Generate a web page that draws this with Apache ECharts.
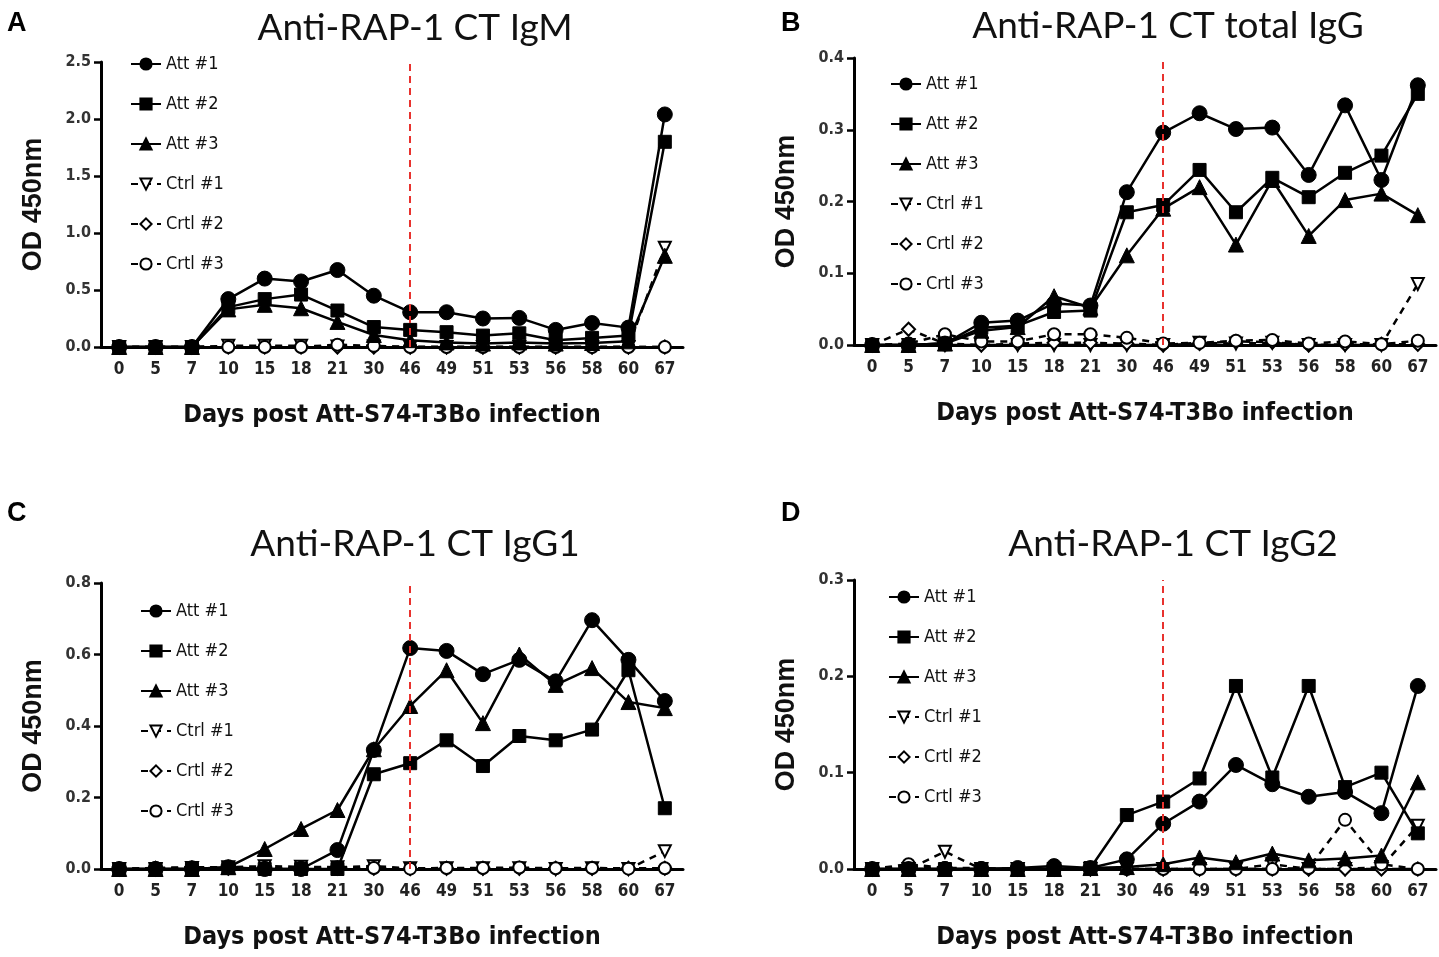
<!DOCTYPE html>
<html><head><meta charset="utf-8">
<script src="https://cdn.jsdelivr.net/npm/echarts@6/dist/echarts.min.js"></script>
<style>html,body{margin:0;padding:0;background:#fff}#c{width:1439px;height:957px}</style>
</head><body><div id="c"></div>
<script>
// ---------- data ----------
const days = ['0','5','7','10','15','18','21','30','46','49','51','53','56','58','60','67'];
const seriesNames = ['Att #1','Att #2','Att #3','Ctrl #1','Crtl #2','Crtl #3'];
const markDay = '46';

// A: IgM
const igmAtt1 = [0,0,0,0.42,0.60,0.575,0.675,0.45,0.305,0.305,0.25,0.255,0.15,0.21,0.17,2.04];
const igmAtt2 = [0,0,0,0.35,0.42,0.46,0.32,0.175,0.15,0.13,0.10,0.12,0.06,0.08,0.10,1.80];
const igmAtt3 = [0,0,0,0.33,0.37,0.34,0.22,0.105,0.06,0.04,0.03,0.04,0.03,0.035,0.05,0.80];
const igmCtrl1 = [0,0,0,0.01,0.01,0.01,0.005,0.005,0,0,0,0,0,0,0,0.87];
const igmCrtl2 = [0,0,0,0,0,0,0,0,0,0,0,0,0,0,0,0];
const igmCrtl3 = [0,0,0,0,0,0,0.02,0.01,0,0,0,0,0,0,0,0];

// B: total IgG
const iggAtt1 = [0,0,0.002,0.031,0.034,0.058,0.055,0.213,0.296,0.323,0.301,0.303,0.237,0.334,0.23,0.362];
const iggAtt2 = [0,0,0.002,0.024,0.027,0.046,0.048,0.185,0.195,0.244,0.185,0.233,0.206,0.24,0.264,0.35];
const iggAtt3 = [0,0,0.002,0.02,0.025,0.068,0.052,0.125,0.19,0.22,0.14,0.23,0.152,0.202,0.211,0.181];
const iggCtrl1 = [0,0,0,0,0,0,0,0,0,0.003,0.002,0.003,0,0,0,0.085];
const iggCrtl2 = [0,0.022,0.002,0,0.002,0.003,0.003,0.002,0,0.002,0.005,0.004,0,0.001,0.001,0.001];
const iggCrtl3 = [0,0.002,0.015,0.005,0.005,0.015,0.015,0.01,0.002,0.003,0.006,0.007,0.002,0.005,0.001,0.006];

// C: IgG1
const igg1Att1 = [0,0,0,0.005,0,0,0.053,0.333,0.618,0.61,0.545,0.585,0.525,0.696,0.585,0.47];
const igg1Att2 = [0,0,0,0.003,0,0,0,0.265,0.296,0.36,0.288,0.372,0.36,0.39,0.556,0.17];
const igg1Att3 = [0,0,0,0.005,0.056,0.112,0.165,0.335,0.456,0.556,0.408,0.6,0.515,0.562,0.467,0.45];
const igg1Ctrl1 = [0,0,0.003,0.005,0.008,0.006,0.005,0.008,0.002,0.002,0.002,0.002,0,0.002,0,0.05];
const igg1Crtl2 = [0,0.002,0.003,0.002,0.002,0.002,0.002,0.002,0.001,0.002,0.002,0.002,0.002,0.002,0.002,0.002];
const igg1Crtl3 = [0,0.003,0.005,0.005,0.003,0.003,0.005,0.003,0.001,0.003,0.003,0.004,0.002,0.003,0.001,0.002];

// D: IgG2
const igg2Att1 = [0,0,0,0,0.001,0.003,0.001,0.01,0.047,0.07,0.108,0.088,0.075,0.08,0.058,0.19];
const igg2Att2 = [0,0,0,0,0,0,0.001,0.056,0.07,0.094,0.19,0.095,0.19,0.085,0.1,0.037];
const igg2Att3 = [0,0,0,0,0,0,0.001,0.002,0.005,0.012,0.007,0.016,0.009,0.011,0.014,0.09];
const igg2Ctrl1 = [0,0,0.018,0,0,0,0,0,0,0,0,0.005,0,0,0.002,0.045];
const igg2Crtl2 = [0,0.003,0,0,0,0,0,0,0,0,0,0,0,0,0,0];
const igg2Crtl3 = [0,0.005,0.001,0.001,0,0,0,0,0,0,0,0,0.001,0.051,0.005,0];

const titles = ['Anti-RAP-1 CT IgM','Anti-RAP-1 CT total IgG','Anti-RAP-1 CT IgG1','Anti-RAP-1 CT IgG2'];
const letters = ['A','B','C','D'];
const yMaxes = [2.5,0.4,0.8,0.3];
const yIntervals = [0.5,0.1,0.2,0.1];
const xAxisTitle = 'Days post Att-S74-T3Bo infection';
const yAxisTitle = 'OD 450nm';

const panelData = [
  [igmAtt1,igmAtt2,igmAtt3,igmCtrl1,igmCrtl2,igmCrtl3],
  [iggAtt1,iggAtt2,iggAtt3,iggCtrl1,iggCrtl2,iggCrtl3],
  [igg1Att1,igg1Att2,igg1Att3,igg1Ctrl1,igg1Crtl2,igg1Crtl3],
  [igg2Att1,igg2Att2,igg2Att3,igg2Ctrl1,igg2Crtl2,igg2Crtl3]
];

// ---------- layout ----------
const layout = [
  {grid:{left:101,top:62,width:582,height:285}, titleX:410, titleY:5, letter:[2,5], legend:[125,50]},
  {grid:{left:854,top:58,width:582,height:287}, titleX:1163, titleY:3, letter:[776,5], legend:[885,70]},
  {grid:{left:101,top:583,width:582,height:286}, titleX:410, titleY:521, letter:[2,495], legend:[135,597]},
  {grid:{left:854,top:580,width:582,height:289}, titleX:1168, titleY:521, letter:[776,495], legend:[883,583]}
];

const narrow = "'Liberation Sans Narrow','DejaVu Sans Condensed','Arial Narrow',sans-serif";
const invTri = 'path://M0,0L10,0L5,9Z';
const styles = [
  {symbol:'circle', size:15, fill:'#000', dash:false},
  {symbol:'rect', size:13, fill:'#000', dash:false},
  {symbol:'triangle', size:15, fill:'#000', dash:false},
  {symbol:invTri, size:12, fill:'#fff', dash:true},
  {symbol:'diamond', size:13, fill:'#fff', dash:true},
  {symbol:'circle', size:12, fill:'#fff', dash:true}
];

const option = {animation:false, backgroundColor:'#fff', title:[], grid:[], xAxis:[], yAxis:[], legend:[], series:[]};

layout.forEach((L,p)=>{
  option.grid.push(L.grid);
  option.title.push({text:titles[p], left:L.titleX, top:L.titleY, textAlign:'center',
    textStyle:{fontFamily:'Lato, Open Sans, sans-serif', fontWeight:'normal', fontSize:37, color:'#111'}});
  option.title.push({text:letters[p], left:L.letter[0], top:L.letter[1],
    textStyle:{fontFamily:'Liberation Sans, Arial, sans-serif', fontWeight:'bold', fontSize:27, color:'#000'}});
  option.xAxis.push({type:'category', gridIndex:p, data:days, boundaryGap:true,
    name:xAxisTitle, nameLocation:'middle', nameGap:56,
    nameTextStyle:{fontFamily:narrow, fontWeight:'bold', fontSize:25, color:'#111'},
    axisLine:{lineStyle:{color:'#000', width:3}},
    axisTick:{alignWithLabel:true, length:7, lineStyle:{width:2.5, color:'#000'}},
    axisLabel:{margin:14, fontFamily:narrow, fontWeight:'bold', fontSize:17, color:'#222'},
    splitLine:{show:false}});
  option.yAxis.push({type:'value', gridIndex:p, min:0, max:yMaxes[p], interval:yIntervals[p],
    name:yAxisTitle, nameLocation:'middle', nameGap:54, nameRotate:90,
    nameTextStyle:{fontFamily:"'Liberation Sans',Arial,sans-serif", fontWeight:'bold', fontSize:27, color:'#111'},
    axisLine:{show:true, lineStyle:{color:'#000', width:3}},
    axisTick:{show:true, length:7, lineStyle:{width:2.5, color:'#000'}},
    axisLabel:{margin:10, fontFamily:narrow, fontWeight:'bold', fontSize:16, color:'#333', formatter:v=>v.toFixed(1)},
    splitLine:{show:false}});
  seriesNames.forEach((nm,i)=>{
    const st = styles[i];
    const s = {type:'line', id:letters[p]+'-'+i, name:nm, xAxisIndex:p, yAxisIndex:p, data:panelData[p][i],
      symbol:st.symbol, symbolSize:st.size, z: i<3 ? 4 : 3,
      lineStyle:{color:'#000', width:2.5, type: st.dash ? [7,6] : 'solid'},
      itemStyle:{color:st.fill, borderColor:'#000', borderWidth: st.dash ? 2 : 1}};
    if(i===0){
      s.markLine = {silent:true, symbol:['none','none'], label:{show:false},
        lineStyle:{color:'#e8322e', type:[7,5], width:2}, data:[{xAxis:markDay}]};
    }
    option.series.push(s);
  });
  option.legend.push({orient:'vertical', left:L.legend[0], top:L.legend[1], itemGap:22,
    itemWidth:30, itemHeight:14, data:seriesNames.map(nm=>({name:nm})),
    textStyle:{fontFamily:narrow, fontSize:18, color:'#111'},
    selectedMode:false});
});

const chart = echarts.init(document.getElementById('c'), null, {renderer:'canvas'});
chart.setOption(option);
</script>
</body></html>
